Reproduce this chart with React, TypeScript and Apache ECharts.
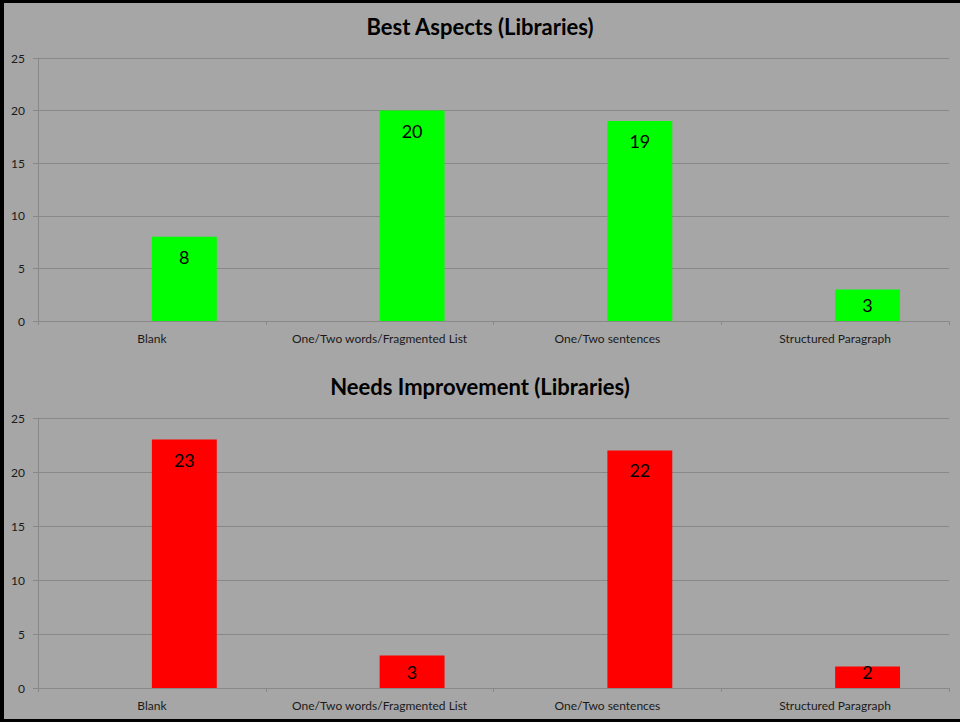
import React, { useEffect, useRef } from "react";
import * as echarts from "echarts";

const categories = ["Blank", "One/Two words/Fragmented List", "One/Two sentences", "Structured Paragraph"];
const bestAspects = [8, 20, 19, 3];
const needsImprovement = [23, 3, 22, 2];
const emptySeries = [null, null, null, null];
const titles = ["Best Aspects (Libraries)", "Needs Improvement (Libraries)"];
const yTicks = { min: 0, max: 25, interval: 5 };

const FONT = "Lato, 'Open Sans', sans-serif";
const GRID_COLOR = "#888888";

export default function App() {
  const ref = useRef<HTMLDivElement>(null);
  useEffect(() => {
    if (!ref.current) return;
    const chart = echarts.init(ref.current, null, { renderer: "svg" });
    const grids = [
      { left: 38, right: 11, top: 58, height: 263 },
      { left: 38, right: 11, top: 418, height: 270 },
    ];
    const xAxis = grids.map((_, i) => ({
      type: "category",
      gridIndex: i,
      data: categories,
      axisLine: { show: true, lineStyle: { color: GRID_COLOR, width: 1 } },
      axisTick: { show: true, interval: 0, length: 4, lineStyle: { color: GRID_COLOR } },
      axisLabel: { interval: 0, margin: 11, color: "#1a1a1a", fontSize: 12, fontFamily: FONT },
    }));
    const yAxis = grids.map((_, i) => ({
      type: "value",
      gridIndex: i,
      min: yTicks.min,
      max: yTicks.max,
      interval: yTicks.interval,
      axisLine: { show: true, lineStyle: { color: GRID_COLOR, width: 1 } },
      axisTick: { show: true, length: 5, lineStyle: { color: GRID_COLOR } },
      axisLabel: { margin: 13, color: "#1a1a1a", fontSize: 12, fontFamily: FONT },
      splitLine: { show: true, lineStyle: { color: GRID_COLOR, width: 1 } },
    }));
    const datasets = [
      { data: bestAspects, color: "#00ff00" },
      { data: needsImprovement, color: "#ff0000" },
    ];
    const series: any[] = [];
    datasets.forEach((d, i) => {
      series.push({
        type: "bar",
        name: "empty" + i,
        xAxisIndex: i,
        yAxisIndex: i,
        data: emptySeries,
        barGap: "0%",
        barCategoryGap: "43%",
        itemStyle: { color: "transparent" },
      });
      series.push({
        type: "bar",
        name: titles[i],
        xAxisIndex: i,
        yAxisIndex: i,
        data: d.data.map((v) => ({
          value: v,
          label:
            v < 4
              ? { position: "insideBottom", distance: 7 }
              : { position: "insideTop", distance: 11 },
        })),
        barGap: "0%",
        barCategoryGap: "43%",
        itemStyle: { color: d.color },
        label: {
          show: true,
          color: "#000",
          fontSize: 18,
          fontFamily: FONT,
        },
      });
    });
    const titleStyle = { fontSize: 22, fontWeight: "bold", color: "#000", fontFamily: FONT };
    chart.setOption({
      animation: false,
      backgroundColor: "#a6a6a6",
      title: [
        { text: titles[0], left: "center", top: 15, padding: 0, textStyle: titleStyle },
        { text: titles[1], left: "center", top: 375, padding: 0, textStyle: titleStyle },
      ],
      grid: grids,
      xAxis,
      yAxis,
      series,
      graphic: [
        { type: "rect", left: 0, top: 0, shape: { width: 960, height: 3 }, style: { fill: "#000" } },
        { type: "rect", left: 0, top: 0, shape: { width: 4, height: 722 }, style: { fill: "#000" } },
        { type: "rect", left: 0, top: 719, shape: { width: 960, height: 3 }, style: { fill: "#000" } },
      ],
    });
    return () => chart.dispose();
  }, []);
  return (
    <div
      ref={ref}
      style={{ position: "absolute", left: 0, top: 0, width: 960, height: 722 }}
    />
  );
}
